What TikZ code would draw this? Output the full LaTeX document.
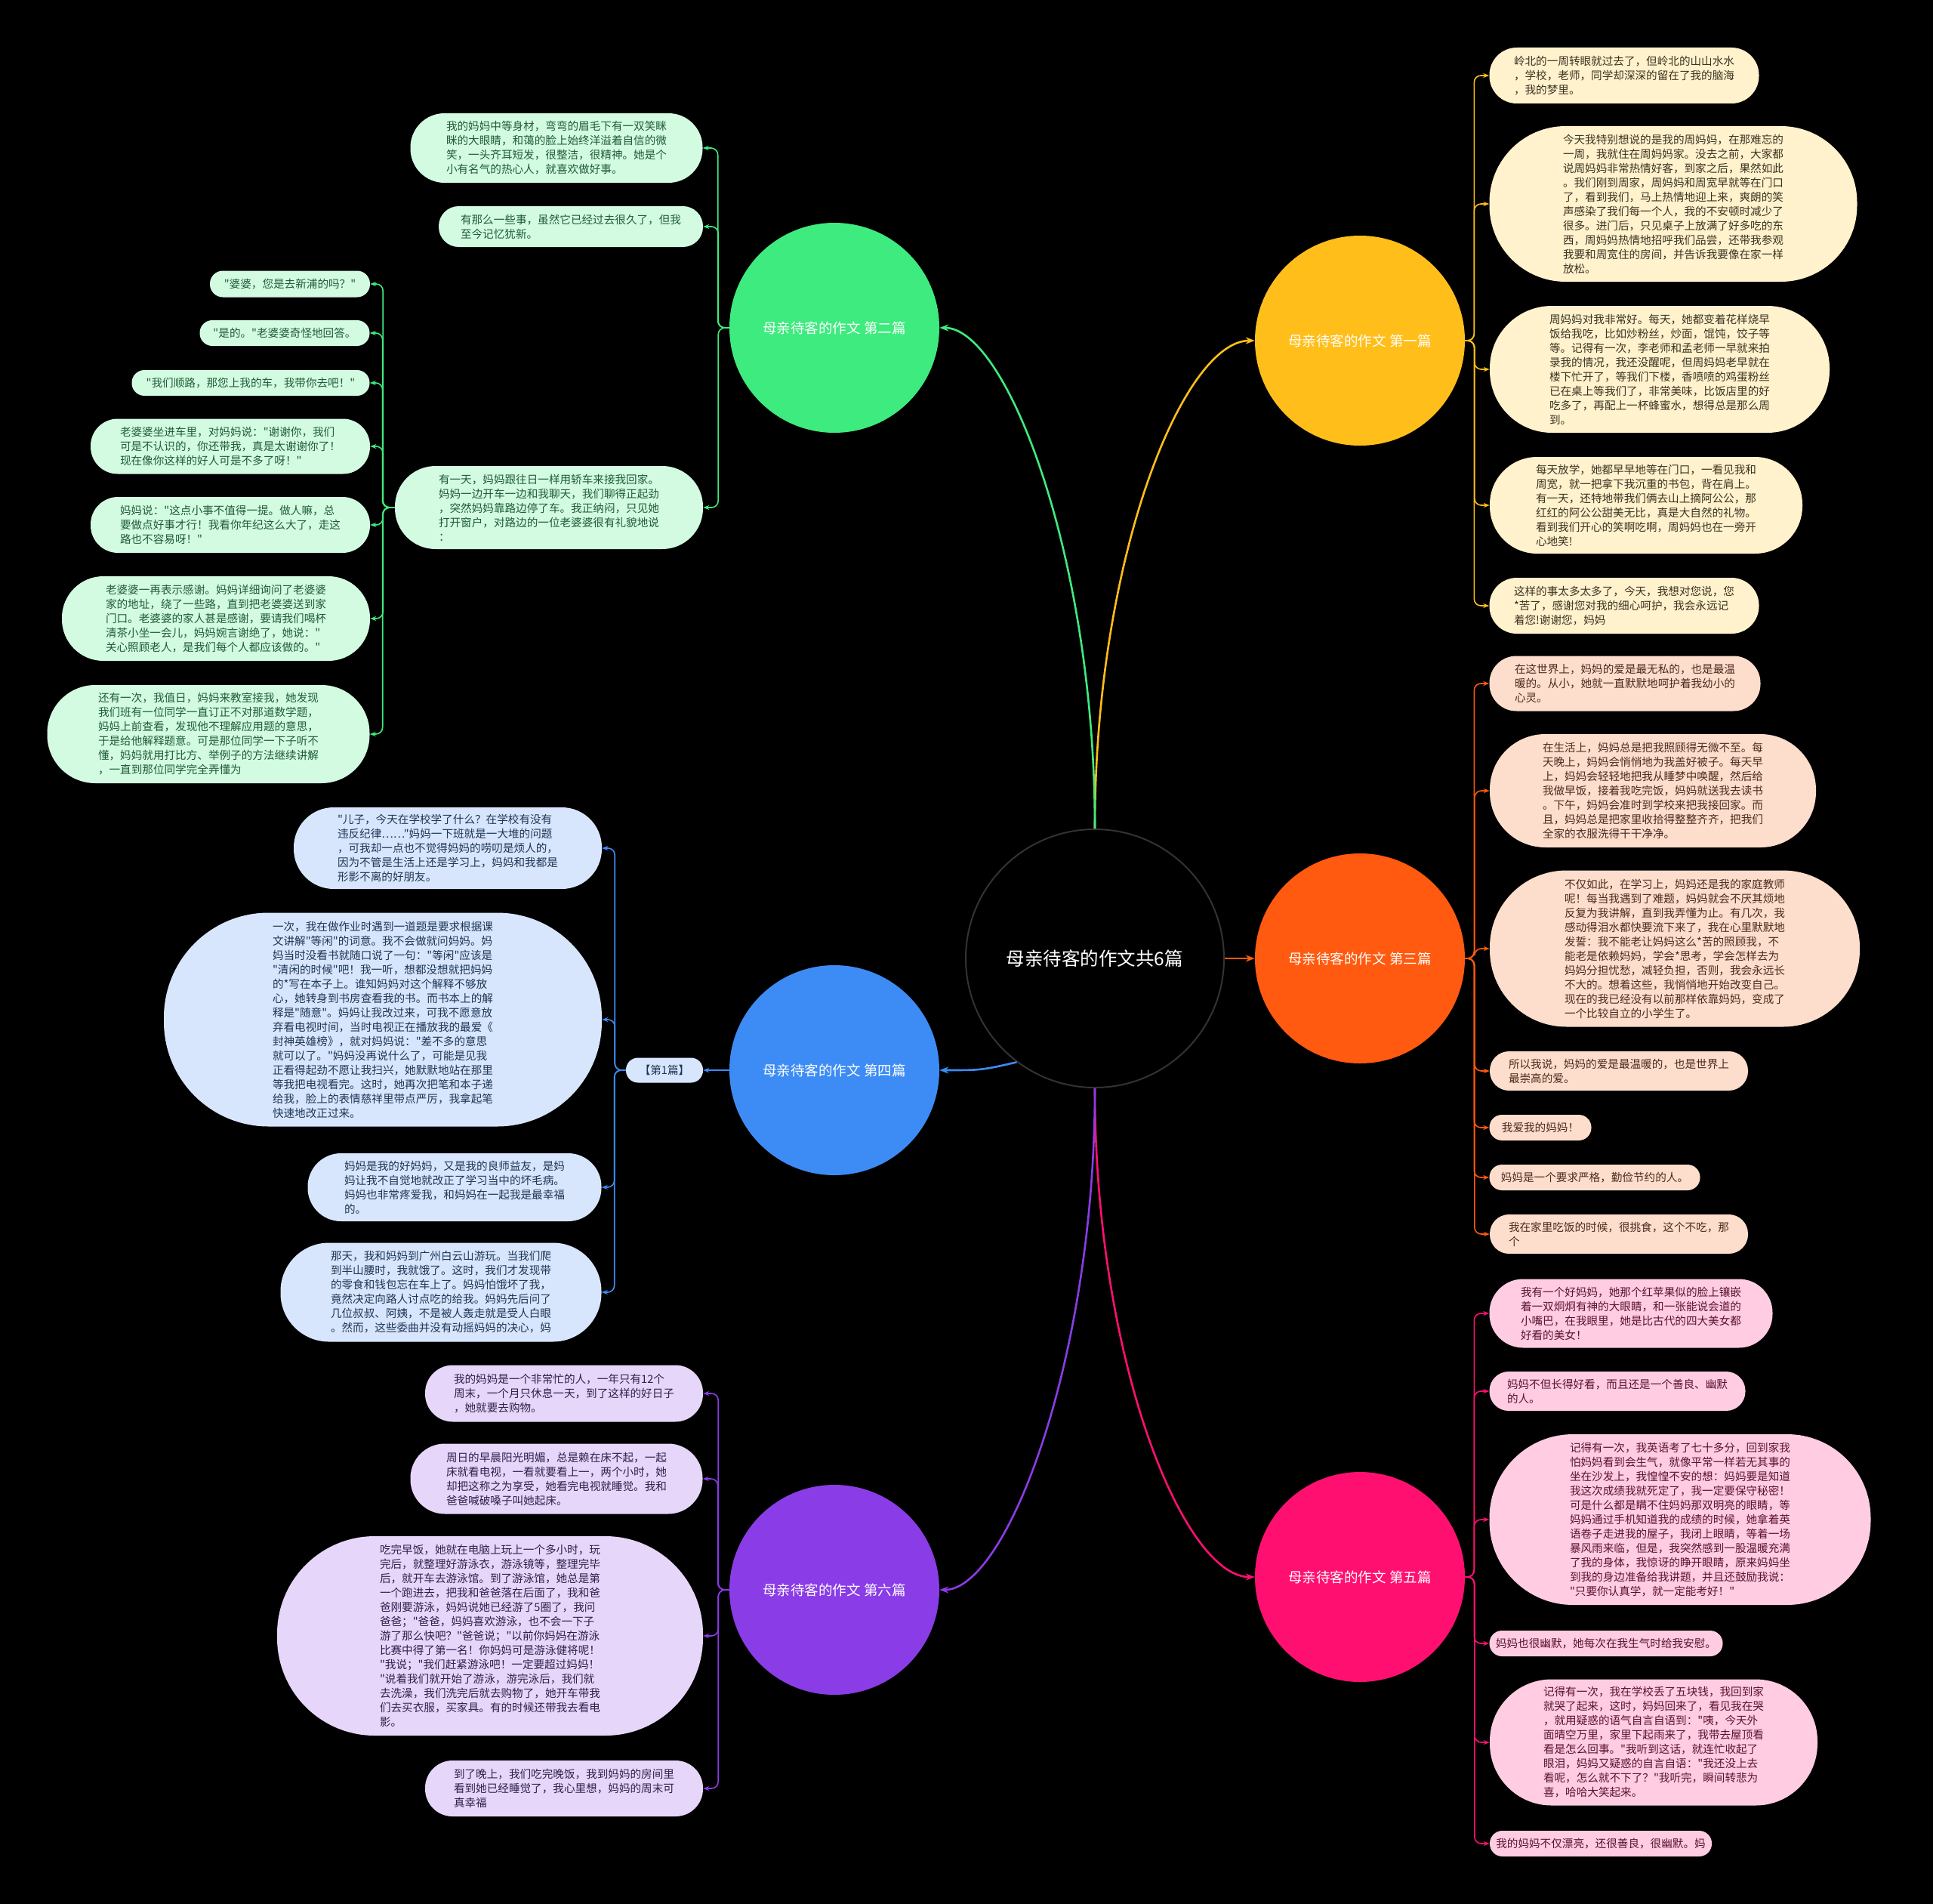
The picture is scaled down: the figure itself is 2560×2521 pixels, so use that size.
\documentclass[tikz,border=0pt]{standalone}
\usepackage{fontspec}
\newfontfamily\cjkf{Noto Sans CJK SC}
\usetikzlibrary{calc,arrows.meta}
\definecolor{c1}{HTML}{FFBE1A}\definecolor{f1}{HTML}{FFF2CC}\definecolor{t1}{HTML}{3B3222}
\definecolor{c2}{HTML}{3EEB7E}\definecolor{f2}{HTML}{D3FBE2}\definecolor{t2}{HTML}{1F5C36}
\definecolor{c3}{HTML}{FF5A0F}\definecolor{f3}{HTML}{FDDDCC}\definecolor{t3}{HTML}{4D2A1F}
\definecolor{c4}{HTML}{3D8CF5}\definecolor{f4}{HTML}{D7E6FC}\definecolor{t4}{HTML}{1E3556}
\definecolor{c5}{HTML}{FF1070}\definecolor{f5}{HTML}{FFCCE2}\definecolor{t5}{HTML}{5A1230}
\definecolor{c6}{HTML}{8A3CE6}\definecolor{f6}{HTML}{E6D7FA}\definecolor{t6}{HTML}{2E1F4D}
\tikzset{
 leafbase/.style={font=\cjkf\fontsize{14.6}{19}\selectfont, align=left, inner sep=0pt},
 sz/.style 2 args={minimum width=#1pt, minimum height=#2pt, rounded corners=#2*0.49pt},
 la/.style={leafbase, fill=f1, text=t1},
 lb/.style={leafbase, fill=f2, text=t2},
 lc/.style={leafbase, fill=f3, text=t3},
 ld/.style={leafbase, fill=f4, text=t4},
 le/.style={leafbase, fill=f5, text=t5},
 lf/.style={leafbase, fill=f6, text=t6},
 branch/.style={circle, inner sep=0pt, minimum size=278pt, text=white, font=\cjkf\fontsize{18.5}{22}\selectfont},
 mainc/.style={draw=#1, line width=2.6pt, -{Stealth[length=12pt,width=9pt]}},
 lk/.style={draw=#1, line width=1.6pt, rounded corners=9pt, -{Stealth[length=8pt,width=6pt]}},
}
\begin{document}
\begin{tikzpicture}[x=1pt,y=-1pt]
\fill[black] (0,0) rectangle (2560,2521);
\useasboundingbox (0,0) rectangle (2560,2521);

% centre and branches
\node[circle, fill=black, draw=black!80!white, line width=2pt, minimum size=342pt, inner sep=0pt, text=white, font=\cjkf\fontsize{24.5}{28}\selectfont] (cen) at (1450,1269) {母亲待客的作文共6篇};
\node[branch, fill=c1] (b1) at (1801,451) {母亲待客的作文 第一篇};
\node[branch, fill=c2] (b2) at (1105,434) {母亲待客的作文 第二篇};
\node[branch, fill=c3] (b3) at (1801,1269) {母亲待客的作文 第三篇};
\node[branch, fill=c4] (b4) at (1105,1417) {母亲待客的作文 第四篇};
\node[branch, fill=c5] (b5) at (1801,2088) {母亲待客的作文 第五篇};
\node[branch, fill=c6] (b6) at (1105,2105) {母亲待客的作文 第六篇};

\draw[mainc=c1] (cen.north) .. controls (1450,735) and (1568,451) .. (b1.west);
\draw[mainc=c2] (cen.north) .. controls (1450,735) and (1332,434) .. (b2.east);
\draw[mainc=c3] (cen.east) -- (b3.west);
\draw[mainc=c4] (cen.-127) .. controls (1300,1417) .. (b4.east);
\draw[mainc=c5] (cen.south) .. controls (1450,1803) and (1568,2088) .. (b5.west);
\draw[mainc=c6] (cen.south) .. controls (1450,1803) and (1332,2105) .. (b6.east);

% ---------- 第一篇
\node[la, sz={357}{74}] (l11) at (2151,100) {岭北的一周转眼就过去了，但岭北的山山水水\\，学校，老师，同学却深深的留在了我的脑海\\，我的梦里。};
\node[la, sz={487}{206}] (l12) at (2216,270) {今天我特别想说的是我的周妈妈，在那难忘的\\一周，我就住在周妈妈家。没去之前，大家都\\说周妈妈非常热情好客，到家之后，果然如此\\。我们刚到周家，周妈妈和周宽早就等在门口\\了，看到我们，马上热情地迎上来，爽朗的笑\\声感染了我们每一个人，我的不安顿时减少了\\很多。进门后，只见桌子上放满了好多吃的东\\西，周妈妈热情地招呼我们品尝，还带我参观\\我要和周宽住的房间，并告诉我要像在家一样\\放松。};
\node[la, sz={450}{168}] (l13) at (2198,489) {周妈妈对我非常好。每天，她都变着花样烧早\\饭给我吃，比如炒粉丝，炒面，馄饨，饺子等\\等。记得有一次，李老师和孟老师一早就来拍\\录我的情况，我还没醒呢，但周妈妈老早就在\\楼下忙开了，等我们下楼，香喷喷的鸡蛋粉丝\\已在桌上等我们了，非常美味，比饭店里的好\\吃多了，再配上一杯蜂蜜水，想得总是那么周\\到。};
\node[la, sz={414}{128}] (l14) at (2180,669) {每天放学，她都早早地等在门口，一看见我和\\周宽，就一把拿下我沉重的书包，背在肩上。\\有一天，还特地带我们俩去山上摘阿公公，那\\红红的阿公公甜美无比，真是大自然的礼物。\\看到我们开心的笑啊吃啊，周妈妈也在一旁开\\心地笑!};
\node[la, sz={357}{74}] (l15) at (2151,802) {这样的事太多太多了，今天，我想对您说，您\\*苦了，感谢您对我的细心呵护，我会永远记\\着您!谢谢您，妈妈};
\foreach \n in {l11,l12,l13,l14,l15}
  \draw[lk=c1] (b1.east) -| ($(\n.west)+(-20,0)$) -- (\n.west);

% ---------- 第三篇
\node[lc, sz={359}{73}] (l31) at (2152,905) {在这世界上，妈妈的爱是最无私的，也是最温\\暖的。从小，她就一直默默地呵护着我幼小的\\心灵。};
\node[lc, sz={432}{150}] (l32) at (2189,1047) {在生活上，妈妈总是把我照顾得无微不至。每\\天晚上，妈妈会悄悄地为我盖好被子。每天早\\上，妈妈会轻轻地把我从睡梦中唤醒，然后给\\我做早饭，接着我吃完饭，妈妈就送我去读书\\。下午，妈妈会准时到学校来把我接回家。而\\且，妈妈总是把家里收拾得整整齐齐，把我们\\全家的衣服洗得干干净净。};
\node[lc, sz={490}{207}] (l33) at (2218,1256) {不仅如此，在学习上，妈妈还是我的家庭教师\\呢！每当我遇到了难题，妈妈就会不厌其烦地\\反复为我讲解，直到我弄懂为止。有几次，我\\感动得泪水都快要流下来了，我在心里默默地\\发誓：我不能老让妈妈这么*苦的照顾我，不\\能老是依赖妈妈，学会*思考，学会怎样去为\\妈妈分担忧愁，减轻负担，否则，我会永远长\\不大的。想着这些，我悄悄地开始改变自己。\\现在的我已经没有以前那样依靠妈妈，变成了\\一个比较自立的小学生了。};
\node[lc, sz={342}{52}] (l34) at (2144,1418) {所以我说，妈妈的爱是最温暖的，也是世界上\\最崇高的爱。};
\node[lc, sz={135}{34}] (l35) at (2040,1493) {我爱我的妈妈！};
\node[lc, sz={279}{34}] (l36) at (2112,1559) {妈妈是一个要求严格，勤俭节约的人。};
\node[lc, sz={342}{52}] (l37) at (2144,1634) {我在家里吃饭的时候，很挑食，这个不吃，那\\个};
\foreach \n in {l31,l32,l33,l34,l35,l36,l37}
  \draw[lk=c3] (b3.east) -| ($(\n.west)+(-20,0)$) -- (\n.west);

% ---------- 第五篇
\node[le, sz={375}{91}] (l51) at (2160,1739) {我有一个好妈妈，她那个红苹果似的脸上镶嵌\\着一双炯炯有神的大眼睛，和一张能说会道的\\小嘴巴，在我眼里，她是比古代的四大美女都\\好看的美女！};
\node[le, sz={339}{52}] (l52) at (2142,1842) {妈妈不但长得好看，而且还是一个善良、幽默\\的人。};
\node[le, sz={505}{226}] (l53) at (2225,2012) {记得有一次，我英语考了七十多分，回到家我\\怕妈妈看到会生气，就像平常一样若无其事的\\坐在沙发上，我惶惶不安的想：妈妈要是知道\\我这次成绩我就死定了，我一定要保守秘密！\\可是什么都是瞒不住妈妈那双明亮的眼睛，等\\妈妈通过手机知道我的成绩的时候，她拿着英\\语卷子走进我的屋子，我闭上眼睛，等着一场\\暴风雨来临，但是，我突然感到一股温暖充满\\了我的身体，我惊讶的睁开眼睛，原来妈妈坐\\到我的身边准备给我讲题，并且还鼓励我说：\\"只要你认真学，就一定能考好！"};
\node[le, sz={309}{34}] (l54) at (2127,2176) {妈妈也很幽默，她每次在我生气时给我安慰。};
\node[le, sz={434}{167}] (l55) at (2190,2307) {记得有一次，我在学校丢了五块钱，我回到家\\就哭了起来，这时，妈妈回来了，看见我在哭\\，就用疑惑的语气自言自语到："咦，今天外\\面晴空万里，家里下起雨来了，我带去屋顶看\\看是怎么回事。"我听到这话，就连忙收起了\\眼泪，妈妈又疑惑的自言自语："我还没上去\\看呢，怎么就不下了？"我听完，瞬间转悲为\\喜，哈哈大笑起来。};
\node[le, sz={294}{34}] (l56) at (2120,2441) {我的妈妈不仅漂亮，还很善良，很幽默。妈};
\foreach \n in {l51,l52,l53,l54,l55,l56}
  \draw[lk=c5] (b5.east) -| ($(\n.west)+(-20,0)$) -- (\n.west);

% ---------- 第二篇
\node[lb, sz={387}{92}] (l21) at (737,196) {我的妈妈中等身材，弯弯的眉毛下有一双笑眯\\眯的大眼睛，和蔼的脸上始终洋溢着自信的微\\笑，一头齐耳短发，很整洁，很精神。她是个\\小有名气的热心人，就喜欢做好事。};
\node[lb, sz={350}{54}] (l22) at (756,300) {有那么一些事，虽然它已经过去很久了，但我\\至今记忆犹新。};
\node[lb, sz={408}{110}] (l23) at (727,672) {有一天，妈妈跟往日一样用轿车来接我回家。\\妈妈一边开车一边和我聊天，我们聊得正起劲\\，突然妈妈靠路边停了车。我正纳闷，只见她\\打开窗户，对路边的一位老婆婆很有礼貌地说\\：};
\foreach \n in {l21,l22,l23}
  \draw[lk=c2] (b2.west) -| ($(\n.east)+(20,0)$) -- (\n.east);

\node[lb, sz={212}{35}] (s1) at (384,376) {"婆婆，您是去新浦的吗？"};
\node[lb, sz={225}{34}] (s2) at (377,441) {"是的。"老婆婆奇怪地回答。};
\node[lb, sz={315}{34}] (s3) at (332,507) {"我们顺路，那您上我的车，我带你去吧！"};
\node[lb, sz={370}{73}] (s4) at (305,591) {老婆婆坐进车里，对妈妈说："谢谢你，我们\\可是不认识的，你还带我，真是太谢谢你了！\\现在像你这样的好人可是不多了呀！"};
\node[lb, sz={370}{74}] (s5) at (305,695) {妈妈说："这点小事不值得一提。做人嘛，总\\要做点好事才行！我看你年纪这么大了，走这\\路也不容易呀！"};
\node[lb, sz={408}{112}] (s6) at (286,819) {老婆婆一再表示感谢。妈妈详细询问了老婆婆\\家的地址，绕了一些路，直到把老婆婆送到家\\门口。老婆婆的家人甚是感谢，要请我们喝杯\\清茶小坐一会儿，妈妈婉言谢绝了，她说："\\关心照顾老人，是我们每个人都应该做的。"};
\node[lb, sz={427}{130}] (s7) at (276,972) {还有一次，我值日，妈妈来教室接我，她发现\\我们班有一位同学一直订正不对那道数学题，\\妈妈上前查看，发现他不理解应用题的意思，\\于是给他解释题意。可是那位同学一下子听不\\懂，妈妈就用打比方、举例子的方法继续讲解\\，一直到那位同学完全弄懂为};
\foreach \n in {s1,s2,s3,s4,s5,s6,s7}
  \draw[lk=c2] (l23.west) -| ($(\n.east)+(17,0)$) -- (\n.east);

% ---------- 第四篇
\node[ld, font=\cjkf\fontsize{14.6}{17}\selectfont, minimum width=102pt, minimum height=33pt, rounded corners=16pt] (lab) at (880,1417) {【第1篇】};
\draw[lk=c4, rounded corners=0pt] (b4.west) -- (lab.east);
\node[ld, sz={408}{108}] (l41) at (593,1123) {"儿子，今天在学校学了什么？在学校有没有\\违反纪律……"妈妈一下班就是一大堆的问题\\，可我却一点也不觉得妈妈的唠叨是烦人的，\\因为不管是生活上还是学习上，妈妈和我都是\\形影不离的好朋友。};
\node[ld, sz={580}{283}] (l42) at (507,1350) {一次，我在做作业时遇到一道题是要求根据课\\文讲解"等闲"的词意。我不会做就问妈妈。妈\\妈当时没看书就随口说了一句："等闲"应该是\\"清闲的时候"吧！我一听，想都没想就把妈妈\\的*写在本子上。谁知妈妈对这个解释不够放\\心，她转身到书房查看我的书。而书本上的解\\释是"随意"。妈妈让我改过来，可我不愿意放\\弃看电视时间，当时电视正在播放我的最爱《\\封神英雄榜》，就对妈妈说："差不多的意思\\就可以了。"妈妈没再说什么了，可能是见我\\正看得起劲不愿让我扫兴，她默默地站在那里\\等我把电视看完。这时，她再次把笔和本子递\\给我，脸上的表情慈祥里带点严厉，我拿起笔\\快速地改正过来。};
\node[ld, sz={389}{90}] (l43) at (602,1572) {妈妈是我的好妈妈，又是我的良师益友，是妈\\妈让我不自觉地就改正了学习当中的坏毛病。\\妈妈也非常疼爱我，和妈妈在一起我是最幸福\\的。};
\node[ld, sz={425}{131}] (l44) at (584,1711) {那天，我和妈妈到广州白云山游玩。当我们爬\\到半山腰时，我就饿了。这时，我们才发现带\\的零食和钱包忘在车上了。妈妈怕饿坏了我，\\竟然决定向路人讨点吃的给我。妈妈先后问了\\几位叔叔、阿姨，不是被人轰走就是受人白眼\\。然而，这些委曲并没有动摇妈妈的决心，妈};
\foreach \n in {l41,l42,l43,l44}
  \draw[lk=c4] (lab.west) -| ($(\n.east)+(17,0)$) -- (\n.east);

% ---------- 第六篇
\node[lf, sz={368}{75}] (l61) at (747,1845) {我的妈妈是一个非常忙的人，一年只有12个\\周末，一个月只休息一天，到了这样的好日子\\，她就要去购物。};
\node[lf, sz={387}{93}] (l62) at (737,1958) {周日的早晨阳光明媚，总是赖在床不起，一起\\床就看电视，一看就要看上一，两个小时，她\\却把这称之为享受，她看完电视就睡觉。我和\\爸爸喊破嗓子叫她起床。};
\node[lf, sz={564}{264}] (l63) at (649,2166) {吃完早饭，她就在电脑上玩上一个多小时，玩\\完后，就整理好游泳衣，游泳镜等，整理完毕\\后，就开车去游泳馆。到了游泳馆，她总是第\\一个跑进去，把我和爸爸落在后面了，我和爸\\爸刚要游泳，妈妈说她已经游了5圈了，我问\\爸爸；"爸爸，妈妈喜欢游泳，也不会一下子\\游了那么快吧？"爸爸说；"以前你妈妈在游泳\\比赛中得了第一名！你妈妈可是游泳健将呢！\\"我说；"我们赶紧游泳吧！一定要超过妈妈！\\"说着我们就开始了游泳，游完泳后，我们就\\去洗澡，我们洗完后就去购物了，她开车带我\\们去买衣服，买家具。有的时候还带我去看电\\影。};
\node[lf, sz={368}{74}] (l64) at (747,2368) {到了晚上，我们吃完晚饭，我到妈妈的房间里\\看到她已经睡觉了，我心里想，妈妈的周末可\\真幸福};
\foreach \n in {l61,l62,l63,l64}
  \draw[lk=c6] (b6.west) -| ($(\n.east)+(20,0)$) -- (\n.east);
\end{tikzpicture}
\end{document}
